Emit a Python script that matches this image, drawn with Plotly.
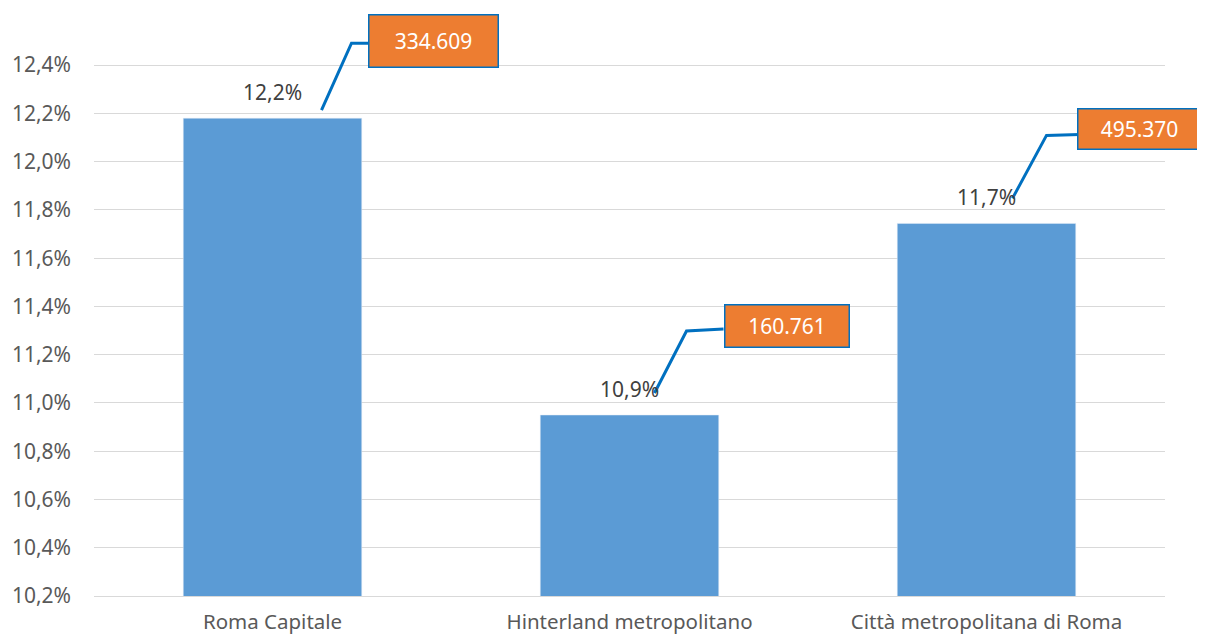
import plotly.graph_objects as go

# ---- data ----
categories = ["Roma Capitale", "Hinterland metropolitano", "Città metropolitana di Roma"]
share_values = [0.1218, 0.1095, 0.11744]          # bar heights (fraction)
callout_values = [334609, 160761, 495370]          # numbers in orange boxes
tick_values = [0.102, 0.104, 0.106, 0.108, 0.110, 0.112, 0.114, 0.116, 0.118, 0.120, 0.122, 0.124]

# ---- styles / pixel offsets (relative to top-centre of each bar) ----
BAR = "#5B9BD5"
ORANGE = "#ED7D31"
LEADER = "#0070C0"
FONT = "Noto Sans"
leader_offsets = [  # (start, elbow, end) in px: (dx, dy up)
    [(49, 8), (79, 75), (104, 75)],
    [(25, 22), (57, 84), (94, 86)],
    [(26, 25), (60, 88), (93, 89)],
]
box_centers = [(161, 77), (157, 89), (153, 94)]
box_sizes = [(128, 51), (123, 41), (122, 39)]

def fmt_thousands(v):
    return f"{v:,}".replace(",", ".")

fig = go.Figure()
fig.add_trace(go.Bar(
    x=categories, y=share_values, marker_color=BAR, width=0.5,
    hoverinfo="skip",
))

annotations = []
shapes = []
for i, (cat, val) in enumerate(zip(categories, share_values)):
    annotations.append(dict(
        x=i, y=val, xref="x", yref="y", text=f"{val:.1%}".replace(".", ","),
        showarrow=False, yanchor="bottom", yshift=10,
        font=dict(family=FONT, size=21, color="#404040"),
    ))
    pts = leader_offsets[i]
    path = "M {} {} L {} {} L {} {}".format(pts[0][0], pts[0][1], pts[1][0], pts[1][1], pts[2][0], pts[2][1])
    shapes.append(dict(
        type="path", xref="x", yref="y", xsizemode="pixel", ysizemode="pixel",
        xanchor=i, yanchor=val, path=path,
        line=dict(color=LEADER, width=3),
    ))
    cx, cy = box_centers[i]
    w, h = box_sizes[i]
    annotations.append(dict(
        x=i, y=val, xref="x", yref="y", text=fmt_thousands(callout_values[i]),
        showarrow=False, xshift=cx, yshift=cy, xanchor="center", yanchor="middle",
        width=w, height=h, bgcolor=ORANGE, bordercolor=LEADER, borderwidth=1.5, borderpad=0,
        font=dict(family=FONT, size=21, color="white"),
    ))

fig.update_layout(
    width=1197, height=627,
    margin=dict(l=86, r=40, t=4, b=39),
    paper_bgcolor="white", plot_bgcolor="white",
    separators=",.",
    showlegend=False,
    annotations=annotations,
    shapes=shapes,
    font=dict(family=FONT, size=20, color="#595959"),
    bargap=0.5,
)
fig.update_yaxes(
    range=[0.102, 0.1262], tickvals=tick_values, tickformat=".1%",
    showgrid=True, gridcolor="#D9D9D9", gridwidth=1.3, zeroline=False,
    showline=False, ticklabelstandoff=22, automargin=False,
    tickfont=dict(family=FONT, size=21, color="#595959"),
)
fig.update_xaxes(
    range=[-0.5, 2.5], autorange=False,
    showline=True, linecolor="#D9D9D9", linewidth=1.3,
    ticks="", ticklabelstandoff=7, automargin=False,
    tickfont=dict(family=FONT, size=20.5, color="#595959"),
)

fig.write_html("out.html")
